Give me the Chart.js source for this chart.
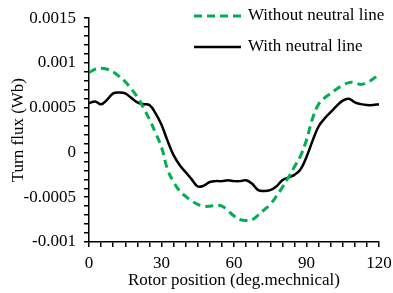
<!DOCTYPE html>
<html>
<head>
<meta charset="utf-8">
<script src="https://cdn.jsdelivr.net/npm/chart.js@4"></script>
<style>
  html, body { margin: 0; padding: 0; background: #fff; }
  #wrap { width: 393px; height: 293px; }
</style>
</head>
<body>
<div id="wrap"><canvas id="flux"></canvas></div>
<script>
// rotor position (deg. mechanical)
const positions = [0, 2.5, 5, 7.5, 10, 12.5, 15, 17.5, 20, 22.5, 25, 27.5, 30, 32.5, 35, 37.5, 40, 42.5, 45, 47.5,
  50, 52.5, 55, 57.5, 60, 62.5, 65, 67.5, 70, 72.5, 75, 77.5, 80, 82.5, 85, 87.5, 90, 92.5, 95, 97.5,
  100, 102.5, 105, 107.5, 110, 112.5, 115, 117.5, 120];

const withoutNeutral = [0.00089, 0.00093, 0.00094, 0.00093, 0.00090, 0.00085, 0.00079, 0.00071, 0.00062, 0.00050,
  0.00037, 0.00022, 0.00006, -0.00019, -0.00033, -0.00043, -0.00049, -0.00054, -0.00058, -0.00060,
  -0.00060, -0.00059, -0.00060, -0.00065, -0.00071, -0.00075, -0.00076, -0.00075, -0.00070, -0.00064,
  -0.00058, -0.00049, -0.00039, -0.00028, -0.00016, -0.00004, 0.00014, 0.00038, 0.00054, 0.00061,
  0.00066, 0.00071, 0.00075, 0.00078, 0.00078, 0.00076, 0.00078, 0.00082, 0.00088];

const withNeutral = [0.00055, 0.00057, 0.00054, 0.00059, 0.00066, 0.00067, 0.00066, 0.00061, 0.00056, 0.00054,
  0.00053, 0.00044, 0.00031, 0.00013, -0.00003, -0.00014, -0.00022, -0.00030, -0.00038, -0.00037,
  -0.00033, -0.00032, -0.00032, -0.00031, -0.00032, -0.00032, -0.00031, -0.00035, -0.00042, -0.00043,
  -0.00042, -0.00038, -0.00031, -0.00028, -0.00025, -0.00019, -0.00005, 0.00013, 0.00029, 0.00038,
  0.00045, 0.00052, 0.00058, 0.00060, 0.00056, 0.00054, 0.00053, 0.00053, 0.00054];

const seriesNames = ["Without neutral line", "With neutral line"];

const serif = "'Liberation Serif', 'Times New Roman', serif";

function toPoints(vals) {
  return positions.map((p, i) => ({ x: p, y: vals[i] }));
}

// legend drawn inside the plot, top right
const insideLegend = {
  id: "insideLegend",
  afterDraw(chart) {
    const ctx = chart.ctx;
    const rows = [
      { ds: chart.data.datasets[0], y: 16 },
      { ds: chart.data.datasets[1], y: 47 },
    ];
    ctx.save();
    rows.forEach((r) => {
      ctx.beginPath();
      ctx.strokeStyle = r.ds.borderColor;
      ctx.lineWidth = r.ds.borderWidth;
      ctx.setLineDash(r.ds.borderDash || []);
      ctx.moveTo(194, r.y);
      ctx.lineTo(241, r.y);
      ctx.stroke();
      ctx.setLineDash([]);
      ctx.fillStyle = "#000";
      ctx.font = "17px " + serif;
      ctx.textBaseline = "middle";
      ctx.fillText(r.ds.label, 248, r.y);
    });
    ctx.restore();
  },
};

const ctx = document.getElementById("flux").getContext("2d");
new Chart(ctx, {
  type: "line",
  data: {
    datasets: [
      {
        label: seriesNames[0],
        data: toPoints(withoutNeutral),
        borderColor: "#00b050",
        borderWidth: 3,
        borderDash: [8, 5],
        pointRadius: 0,
        tension: 0.4,
        fill: false,
      },
      {
        label: seriesNames[1],
        data: toPoints(withNeutral),
        borderColor: "#000000",
        borderWidth: 2.5,
        pointRadius: 0,
        tension: 0.4,
        fill: false,
      },
    ],
  },
  options: {
    responsive: true,
    maintainAspectRatio: false,
    animation: false,
    layout: { padding: { top: 13, right: 14, left: 0, bottom: 0 } },
    plugins: {
      legend: { display: false },
      tooltip: { enabled: false },
    },
    scales: {
      x: {
        type: "linear",
        min: 0,
        max: 120,
        afterFit: (s) => {
          s.height = 51;
          s.paddingLeft = 0;
          s.paddingRight = 0;
        },
        ticks: {
          stepSize: 5,
          autoSkip: false,
          maxRotation: 0,
          color: "#000",
          padding: 6,
          font: { family: serif, size: 17 },
          callback: (v) => (v % 30 === 0 ? String(v) : ""),
        },
        grid: { drawOnChartArea: false, drawTicks: true, tickLength: 5, color: "#000", lineWidth: 1.5 },
        border: { color: "#000", width: 1.5 },
        title: {
          display: true,
          text: "Rotor position (deg.mechnical)",
          color: "#000",
          font: { family: serif, size: 17 },
          padding: { top: 0, bottom: 2 },
        },
      },
      y: {
        min: -0.001,
        max: 0.0015,
        afterFit: (s) => { s.width = 89; },
        ticks: {
          stepSize: 0.0001,
          autoSkip: false,
          color: "#000",
          padding: 8,
          font: { family: serif, size: 17 },
          callback: (v) => {
            const n = Math.round(v * 10000);
            return n % 5 === 0 ? String(n / 10000) : "";
          },
        },
        grid: { drawOnChartArea: false, drawTicks: true, tickLength: 5, color: "#000", lineWidth: 1.5 },
        border: { color: "#000", width: 1.5 },
        title: {
          display: true,
          text: "Turn flux (Wb)",
          color: "#000",
          font: { family: serif, size: 17 },
          padding: { top: 8, bottom: 0 },
        },
      },
    },
  },
  plugins: [insideLegend],
});
</script>
</body>
</html>
